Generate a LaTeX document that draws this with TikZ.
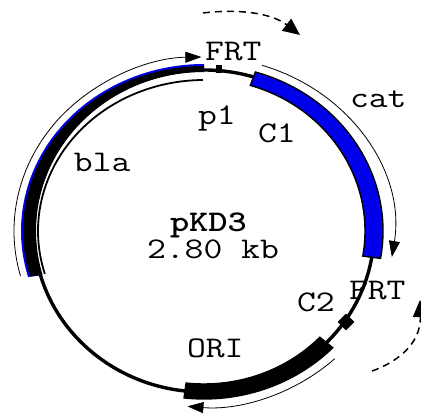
\documentclass[tikz,border=0pt]{standalone}
\usetikzlibrary{arrows.meta}
\definecolor{bandblue}{RGB}{0,0,235}
\tikzset{
  lbl/.style={anchor=base west,inner sep=0pt,outer sep=0pt,font=\fontsize{30}{30}\ttfamily,xscale=1.22,transform shape},
  thin arc/.style={line width=0.8pt,draw=black},
  tip/.style={-{Triangle[length=16pt,width=11pt]}},
  flow/.style={line width=1.5pt,dash pattern=on 7pt off 5pt,-{Triangle[length=17pt,width=15pt]}}
}
\begin{document}
\begin{tikzpicture}[x=1pt,y=1pt]
\useasboundingbox (0,0) rectangle (421,-414);
\clip (0,0) rectangle (421,-414);
\begin{scope}[shift={(204,-231)}]
  % backbone
  \draw[line width=3.4pt] (0,0) ellipse [x radius=170,y radius=161];
  % bla: blue rim and black band
  \fill[bandblue] (196:183 and 167) arc[start angle=196,end angle=90,x radius=183,y radius=167]
     -- (90:170 and 161) arc[start angle=90,end angle=196,x radius=170,y radius=161] -- cycle;
  \fill[black] (196:181 and 165) arc[start angle=196,end angle=90,x radius=181,y radius=165]
     -- (90:168 and 159) arc[start angle=90,end angle=196,x radius=168,y radius=159] -- cycle;
  \draw[line width=1.8pt] (196.5:166 and 151) arc[start angle=196.5,end angle=90.4,x radius=166,y radius=151];
  \draw[thin arc,tip] (195:190 and 174) arc[start angle=195,end angle=90.8,x radius=190,y radius=174];
  % cat
  \filldraw[fill=bandblue,draw=black,line width=1.4pt]
     (73.3:179 and 166) arc[start angle=73.3,end angle=-9.5,x radius=179,y radius=166]
     -- (-9.5:161 and 152) arc[start angle=-9.5,end angle=73.3,x radius=161,y radius=152] -- cycle;
  \draw[thin arc,tip] (72.2:190 and 174) arc[start angle=72.2,end angle=-8.6,x radius=190,y radius=174];
  % ORI
  \filldraw[fill=black,draw=black,line width=1.4pt]
     (-96.4:179 and 168) arc[start angle=-96.4,end angle=-44,x radius=179,y radius=168]
     -- (-44:161 and 153) arc[start angle=-44,end angle=-96.4,x radius=161,y radius=153] -- cycle;
  \draw[thin arc,tip] (-46.5:190 and 176) arc[start angle=-46.5,end angle=-95,x radius=190,y radius=176];
\end{scope}
% site marks
\fill (216,-65) rectangle (222,-73);
\fill[rotate around={45:(346,-322)}] (340,-328) rectangle (352,-316);
% dashed flow arrows
\draw[flow] (203,-13) .. controls (235,-9) and (270,-12) .. (300,-35);
\draw[flow] (372,-371) .. controls (395,-363) and (421,-345) .. (420,-300);
% labels
\node[lbl] (frta) at (205,-61) {FRT};
\node[lbl] (pone) at (198,-125) {p1};
\node[lbl] (cone) at (258,-143) {C1};
\node[lbl] (cat) at (350,-108) {cat};
\node[lbl] (bla) at (74,-172) {bla};
\node[lbl,font=\fontsize{30}{30}\ttfamily\bfseries] (name) at (170,-232) {pKD3};
\node[lbl] (size) at (147,-259) {2.80 kb};
\node[lbl] (ctwo) at (297,-312) {C2};
\node[lbl] (frtb) at (349,-300) {FRT};
\node[lbl] (ori) at (187,-358) {ORI};
\end{tikzpicture}
\end{document}
